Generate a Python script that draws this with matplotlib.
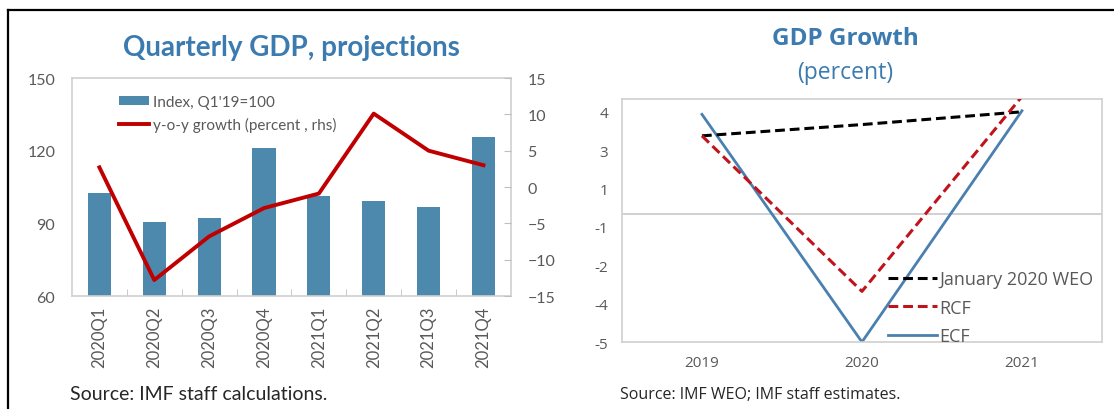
import numpy as np
import matplotlib
matplotlib.use('Agg')
import matplotlib.pyplot as plt
from matplotlib.lines import Line2D

# Left panel data
quarters = ['2020Q1', '2020Q2', '2020Q3', '2020Q4', '2021Q1', '2021Q2', '2021Q3', '2021Q4']
gdp_index = [102.4, 90.4, 92.1, 121.3, 101.1, 99.3, 96.8, 125.5]
yoy_growth = [2.7, -12.8, -6.8, -2.9, -0.9, 10.1, 5.0, 3.0]

# Right panel data
years = ['2019', '2020', '2021']
weo_jan = [3.06, 3.5, 4.0]
rcf = [3.06, -3.02, 4.6]
ecf = [3.9, -5.0, 4.04]
growth_ticks = [-5, -3.5, -2, -0.5, 1, 2.5, 4]
growth_ticklabels = ['-5', '-4', '-2', '-1', '1', '3', '4']

title_blue = '#3B7BB0'
bar_blue = '#4C89AD'
dark_red = '#C00000'
grid_gray = '#D0D0D0'
text_gray = '#595959'

fig = plt.figure(figsize=(11.14, 4.10), dpi=100)
fig.patch.set_facecolor('white')

# outer frame (top and left only)
fig.add_artist(Line2D([0.0072, 1.0], [0.973, 0.973], color='black', lw=1.6))
fig.add_artist(Line2D([0.0072, 0.0072], [0.0, 0.973], color='black', lw=1.6))

# ---------------- left panel ----------------
ax1 = fig.add_axes([0.0646, 0.2756, 0.394, 0.5317])
x = np.arange(len(quarters))
ax1.bar(x, gdp_index, width=0.42, color=bar_blue, label="Index, Q1'19=100", zorder=2)
ax1.set_ylim(60, 150)
ax1.set_xlim(-0.5, len(quarters) - 0.5)
ax1.set_yticks([60, 90, 120, 150])
ax1.set_xticks(x)
ax1.set_xticklabels(quarters, rotation=90, family='Lato', fontsize=12, color=text_gray)
ax1.set_xticks(np.arange(0.5, len(quarters) - 1, 1), minor=True)
ax1.tick_params(axis='x', which='major', length=0, pad=7)
ax1.tick_params(axis='x', which='minor', direction='in', length=5, color='#BFBFBF')
ax1.tick_params(axis='y', length=0, labelsize=11.5, labelcolor=text_gray, pad=12)
for lab in ax1.get_yticklabels():
    lab.set_family('Lato')
for s in ax1.spines.values():
    s.set_color(grid_gray)
    s.set_linewidth(1.2)

ax1b = ax1.twinx()
ax1b.plot(x, yoy_growth, color=dark_red, lw=2.8, label='y-o-y growth (percent , rhs)', zorder=3)
ax1b.set_ylim(-15, 15)
ax1b.set_yticks([-15, -10, -5, 0, 5, 10, 15])
ax1b.tick_params(axis='y', direction='in', length=5, color='#BFBFBF',
                 labelsize=11.5, labelcolor=text_gray, pad=12)
for lab in ax1b.get_yticklabels():
    lab.set_family('Lato')
for s in ax1b.spines.values():
    s.set_visible(False)

h1, l1 = ax1.get_legend_handles_labels()
h2, l2 = ax1b.get_legend_handles_labels()
leg1 = ax1b.legend(h1 + h2, l1 + l2, loc='upper left', bbox_to_anchor=(0.075, 0.985),
                   frameon=False, prop={'family': 'Lato', 'size': 11},
                   handlelength=2.0, handleheight=0.5, handletextpad=0.25, labelspacing=0.5)
for t in leg1.get_texts():
    t.set_color(text_gray)

fig.text(0.262, 0.882, 'Quarterly GDP, projections', ha='center', va='center',
         family='Lato', fontweight='bold', fontsize=20, color=title_blue)
fig.text(0.063, 0.038, 'Source: IMF staff calculations.', ha='left', va='center',
         family='Lato', fontsize=14, color='#262626')

# ---------------- right panel ----------------
ax2 = fig.add_axes([0.5583, 0.1634, 0.4309, 0.5927])
xr = np.arange(len(years))
ax2.axhline(0, color='#C8C8C8', lw=1.2, zorder=1)
ax2.plot(xr, weo_jan, color='black', lw=2.2, dashes=(3.2, 1.6), label='January 2020 WEO', zorder=3)
ax2.plot(xr, rcf, color='#C0141C', lw=2.2, dashes=(3.2, 1.6), label='RCF', zorder=3)
ax2.plot(xr, ecf, color='#4A80B0', lw=2.0, label='ECF', zorder=2)
ax2.set_xlim(-0.5, len(years) - 0.5)
ax2.set_ylim(-5, 4.5)
ax2.set_yticks(growth_ticks)
ax2.set_yticklabels(growth_ticklabels)
ax2.set_xticks(xr)
ax2.set_xticklabels(years)
ax2.tick_params(axis='both', length=0, labelsize=11, labelcolor=text_gray)
ax2.tick_params(axis='y', pad=10)
ax2.tick_params(axis='x', pad=9)
for lab in ax2.get_xticklabels() + ax2.get_yticklabels():
    lab.set_family('Open Sans')
for s in ax2.spines.values():
    s.set_color(grid_gray)
    s.set_linewidth(1.2)

leg2 = ax2.legend(loc='lower left', bbox_to_anchor=(0.52, -0.08), frameon=False,
                  prop={'family': 'Open Sans', 'size': 13},
                  handlelength=2.7, handletextpad=0.15, labelspacing=0.58)
for t in leg2.get_texts():
    t.set_color(text_gray)

fig.text(0.759, 0.905, 'GDP Growth', ha='center', va='center',
         family='Open Sans', fontweight='bold', fontsize=17.5, color=title_blue)
fig.text(0.759, 0.822, '(percent)', ha='center', va='center',
         family='Open Sans', fontsize=16.5, color=title_blue)
fig.text(0.557, 0.036, 'Source: IMF WEO; IMF staff estimates.', ha='left', va='center',
         family='Open Sans', fontsize=11.5, color='#262626')

fig.savefig('out.png', dpi=100)
